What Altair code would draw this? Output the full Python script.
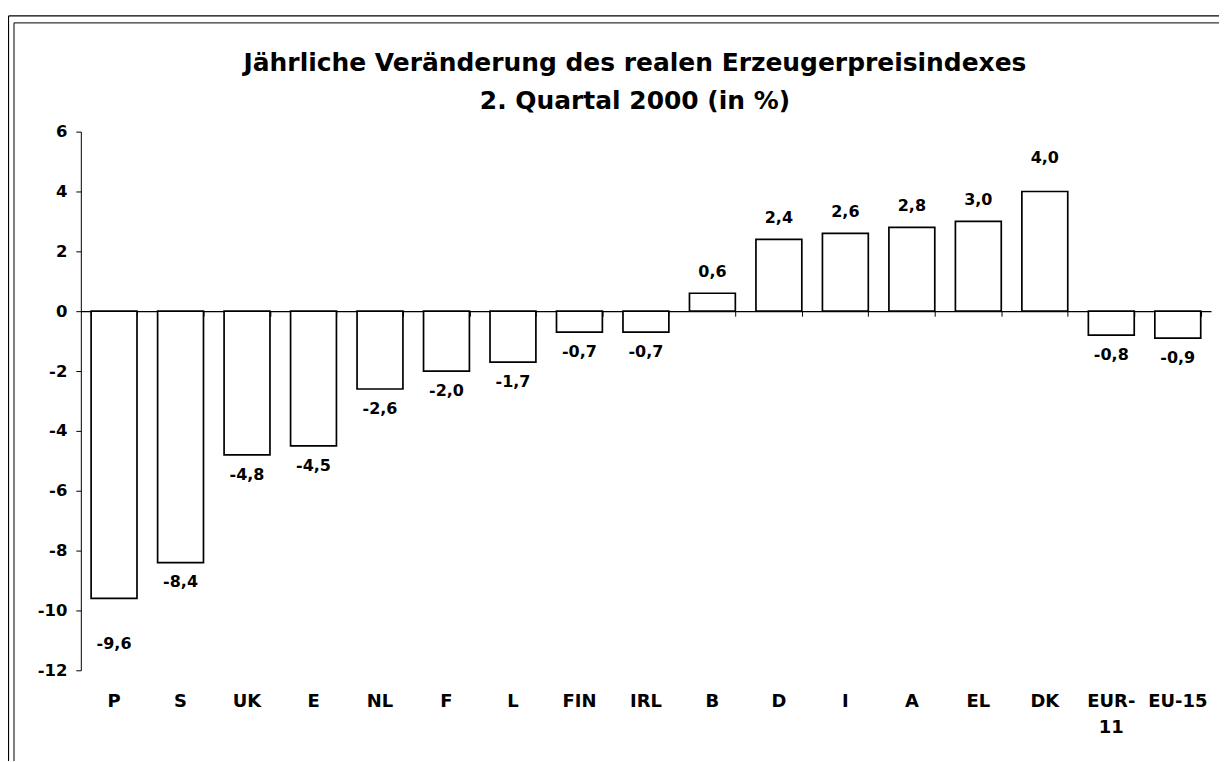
import altair as alt
import pandas as pd

categories = ["P", "S", "UK", "E", "NL", "F", "L", "FIN", "IRL", "B", "D", "I", "A", "EL", "DK", "EUR-11", "EU-15"]
values = [-9.6, -8.4, -4.8, -4.5, -2.6, -2.0, -1.7, -0.7, -0.7, 0.6, 2.4, 2.6, 2.8, 3.0, 4.0, -0.8, -0.9]
y_ticks = [-12, -10, -8, -6, -4, -2, 0, 2, 4, 6]
title_lines = ["Jährliche Veränderung des realen Erzeugerpreisindexes", "2. Quartal 2000 (in %)"]

df = pd.DataFrame({"land": categories, "wert": values})
df["label"] = [f"{v:.1f}".replace(".", ",") for v in values]

FONT = "DejaVu Sans"
W, H = 1133, 540

x_enc = alt.X("land:N", sort=categories,
              scale=alt.Scale(paddingInner=0.31, paddingOuter=0.155),
              axis=alt.Axis(title=None, orient="bottom", labelAngle=0, domain=False, ticks=False,
                            tickSize=0, labelPadding=22, labelFontSize=18, labelFontWeight="bold",
                            labelFont=FONT, labelColor="black", labelLineHeight=26,
                            labelExpr="datum.value == 'EUR-11' ? ['EUR-', '11'] : datum.value"))
y_enc = alt.Y("wert:Q", scale=alt.Scale(domain=[-12, 6], nice=False, zero=False),
              axis=alt.Axis(title=None, values=y_ticks, grid=False, domain=True, domainColor="black",
                            domainWidth=1, ticks=True, tickColor="black", tickSize=5, labelPadding=9,
                            labelFontSize=16.5, labelFontWeight="bold", labelFont=FONT, labelColor="black",
                            labelExpr="datum.value + ''"))

x_plain = alt.X("land:N", sort=categories, axis=None)

base = alt.Chart(df)

bars = base.mark_bar(fill="white", stroke="black", strokeWidth=1.7).encode(
    x=x_enc, y=y_enc, y2=alt.datum(0))

zero_axis = base.mark_point(opacity=0).encode(
    x=alt.X("land:N", sort=categories,
            axis=alt.Axis(title=None, orient="bottom", offset=-360, labels=False, domain=True,
                          domainColor="black", domainWidth=1.2, ticks=True, tickBand="extent",
                          tickSize=5, tickColor="black", tickWidth=1)),
    y="wert:Q")

txt = dict(fontSize=16, fontWeight="bold", font=FONT, color="black", baseline="middle", align="center")
neg_labels = base.transform_filter("datum.wert < 0 && datum.land != 'P'").mark_text(dy=20, **txt).encode(
    x=x_plain, y="wert:Q", text="label:N")
p_label = base.transform_filter("datum.land == 'P'").mark_text(dy=46, **txt).encode(
    x=x_plain, y="wert:Q", text="label:N")
pos_labels = base.transform_filter("datum.wert > 0 && datum.land != 'DK'").mark_text(dy=-21, **txt).encode(
    x=x_plain, y="wert:Q", text="label:N")
dk_label = base.transform_filter("datum.land == 'DK'").mark_text(dy=-34, **txt).encode(
    x=x_plain, y="wert:Q", text="label:N")

# decorative double frame (as in the scanned original)
frame = alt.Chart(pd.DataFrame({"a": [0]}))
frame_rules = (
    frame.mark_rule(color="black", strokeWidth=1.2).encode(x=alt.value(-72.5), y=alt.value(-116), y2=alt.value(631))
    + frame.mark_rule(color="black", strokeWidth=1).encode(x=alt.value(-67), y=alt.value(-109), y2=alt.value(631))
    + frame.mark_rule(color="black", strokeWidth=1.2).encode(y=alt.value(-116), x=alt.value(-72.5), x2=alt.value(1141))
    + frame.mark_rule(color="black", strokeWidth=1).encode(y=alt.value(-109), x=alt.value(-67), x2=alt.value(1141))
)

chart = alt.layer(bars, zero_axis, neg_labels, p_label, pos_labels, dk_label, frame_rules).resolve_axis(
    x="independent"
).properties(
    width=W, height=H,
    autosize=alt.AutoSizeParams(type="none"),
    padding={"left": 73, "top": 123, "right": 8, "bottom": 91},
    title=alt.TitleParams(title_lines, anchor="middle", font=FONT, fontSize=25, fontWeight="bold",
                          color="black", lineHeight=38, offset=-99, dx=-11),
).configure_view(stroke=None)

chart.save("out.html", embed_options={"renderer": "svg", "actions": False})
